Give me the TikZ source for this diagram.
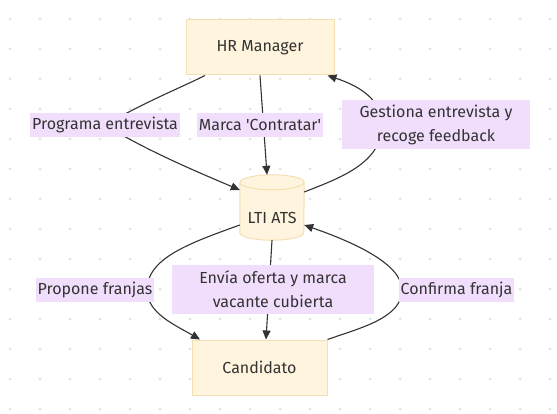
\documentclass[tikz,border=0pt]{standalone}
\usepackage{fontspec}
\setmainfont{Fira Sans}
\usepackage{tikz}
\usetikzlibrary{arrows.meta}
\definecolor{boxfill}{HTML}{FFF4DD}
\definecolor{boxline}{HTML}{F3DFB2}
\definecolor{lblfill}{HTML}{F1DEFC}
\definecolor{inkgray}{HTML}{333333}
\definecolor{dotgray}{HTML}{E3E3E3}
\pgfdeclarelayer{background}
\pgfdeclarelayer{edges}
\pgfsetlayers{background,edges,main}
\tikzset{%
  >={Triangle[width=8pt,length=9pt]},
  base/.style = {rectangle, draw=boxline, fill=boxfill, line width=1pt,
      text=inkgray, font=\fontsize{16}{19}\selectfont},
  actor/.style = {base, minimum height=55pt},
  store/.style = {rectangle, minimum width=64pt, minimum height=65pt,
      inner sep=0pt, text=inkgray, text height=31.5pt, text depth=0pt,
      font=\fontsize{16}{19}\selectfont},
  msg/.style = {rectangle, fill=lblfill, text=inkgray, inner xsep=2pt,
      inner ysep=0pt, minimum height=24pt, align=center,
      font=\fontsize{16}{24}\selectfont},
  msgtwo/.style = {msg, minimum height=49pt},
  flow/.style = {draw=inkgray, line width=1.1pt, ->},
}

\begin{document}
\begin{tikzpicture}[x=1pt, y=1pt]
  % background and dot grid
  \begin{pgfonlayer}{background}
    \fill[white] (0,0) rectangle (557,413);
    \foreach \gx in {0,...,18}
      \foreach \gy in {0,...,13}
        \fill[dotgray] (10+30*\gx, 4+30*\gy) circle (1.5);
  \end{pgfonlayer}

  % Specification of nodes (position, etc.)
  \node (hrManager) [actor, minimum width=148pt] at (260,365.5) {HR Manager};
  \node (ltiAts)    [store]                      at (272,205.5) {LTI ATS};
  \node (candidato) [actor, minimum width=135pt] at (259.5,45.5) {Candidato};

  % cylinder body of the ATS
  \begin{pgfonlayer}{background}
    \path[draw=boxline, fill=boxfill, line width=1pt]
      ([yshift=-7.5pt]ltiAts.north west) -- ([yshift=7.5pt]ltiAts.south west)
      arc[start angle=180, end angle=360, x radius=32, y radius=7.5]
      -- ([yshift=-7.5pt]ltiAts.north east)
      arc[start angle=0, end angle=180, x radius=32, y radius=7.5] -- cycle;
    \draw[boxline, line width=1pt] ([yshift=-7.5pt]ltiAts.north west)
      arc[start angle=180, end angle=360, x radius=32, y radius=7.5];
  \end{pgfonlayer}

  % labels of the messages
  \node (programaLbl)  [msg]    at (105,288)   {Programa entrevista};
  \node (marcaLbl)     [msg]    at (260,288)   {Marca \textquotesingle Contratar\textquotesingle};
  \node (gestionaLbl)  [msgtwo, minimum width=188pt] at (436,288)
                                               {Gestiona entrevista y\\recoge feedback};
  \node (proponeLbl)   [msg]    at (95,123)    {Propone franjas};
  \node (enviaLbl)     [msgtwo, minimum width=202pt] at (273,123.5)
                                               {Envía oferta y marca\\vacante cubierta};
  \node (confirmaLbl)  [msg]    at (456.5,123) {Confirma franja};

  % Specification of lines between nodes specified above
  \begin{pgfonlayer}{edges}
    \draw[flow] ([xshift=-55pt]hrManager.south)
      .. controls (180,325) and (147,312) .. (programaLbl.center)
      .. controls (147,262) and (200,240) .. ([yshift=17.5pt]ltiAts.west);
    \draw[flow] (hrManager.south) -- ([xshift=-5pt]ltiAts.north);
    \draw[flow] ([yshift=15.5pt]ltiAts.east)
      .. controls (340,235) and (382,250) .. (382,288)
      .. controls (382,318) and (350,330) .. ([xshift=-7pt]hrManager.south east);
    \draw[flow] ([yshift=-17.5pt]ltiAts.west)
      .. controls (190,170) and (147,155) .. (147,123)
      .. controls (147,100) and (175,88) .. ([xshift=-59.5pt]candidato.north);
    \draw[flow] (ltiAts.south) -- ([xshift=6.5pt]candidato.north);
    \draw[flow] (candidato.north east)
      .. controls (360,85) and (402,95) .. (402,123)
      .. controls (402,150) and (350,172) .. ([yshift=-17.5pt]ltiAts.east);
  \end{pgfonlayer}
\end{tikzpicture}
\end{document}
